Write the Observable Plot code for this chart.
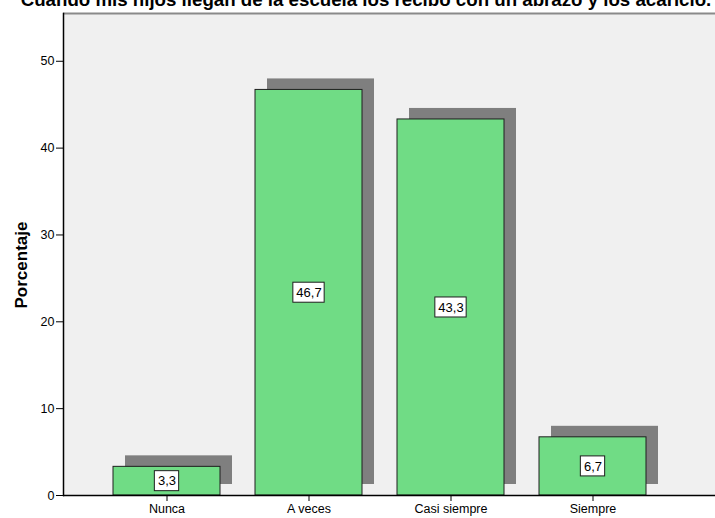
<!DOCTYPE html>
<html>
<head>
<meta charset="utf-8">
<script src="https://cdn.jsdelivr.net/npm/d3@7"></script>
<script src="https://cdn.jsdelivr.net/npm/@observablehq/plot@0.6"></script>
<style>
  html, body { margin: 0; padding: 0; background: #fff; overflow: hidden; }
  #wrap { position: relative; width: 715px; height: 518px; font-family: "Liberation Sans", Arial, sans-serif; }
  #title { position: absolute; left: 0; width: 732px; top: -9.5px; text-align: center; font-weight: bold; font-size: 18.7px; line-height: 18px; white-space: nowrap; color: #000; }
  #chart { position: absolute; left: 0; top: 0; }
</style>
</head>
<body>
<div id="wrap">
  <div id="chart"></div>
  <div id="title">Cuando mis hijos llegan de la escuela los recibo con un abrazo y los acaricio.</div>
</div>
<script>
const categories = ["Nunca", "A veces", "Casi siempre", "Siempre"];
const values = [3.3, 46.7, 43.3, 6.7];
const valueLabels = ["3,3", "46,7", "43,3", "6,7"];
const yTicks = [0, 10, 20, 30, 40, 50];
const yMax = 55.5;
const yTitle = "Porcentaje";

const data = categories.map((c, i) => ({cat: c, v: values[i], label: valueLabels[i]}));

const bandwidth = 106.7;
const boxH = 10;

const chart = Plot.plot({
  width: 715,
  height: 518,
  marginLeft: 63,
  marginRight: 0,
  marginTop: 13,
  marginBottom: 23,
  style: {fontFamily: "Liberation Sans, Arial, sans-serif", background: "transparent", color: "#000"},
  x: {type: "band", domain: categories, range: [76.5, 681], padding: 0.25},
  y: {domain: [0, yMax], range: [495, 13]},
  marks: [
    Plot.frame({fill: "#f0f0f0", stroke: null}),
    Plot.ruleY([yMax], {stroke: "#8a8a8a", strokeWidth: 2}),
    Plot.barY(data, {x: "cat", y: "v", fill: "#7f7f7f", dx: 12, dy: -11}),
    Plot.barY(data, {x: "cat", y: "v", fill: "#70dc85", stroke: "#1e1e1e", strokeWidth: 1}),
    Plot.barY(data.filter(d => d.label.length > 3), {x: "cat", y1: d => d.v / 2, y2: d => d.v / 2,
      fill: "white", stroke: "#1e1e1e", strokeWidth: 1,
      insetLeft: (bandwidth - 31) / 2, insetRight: (bandwidth - 31) / 2, insetTop: -boxH, insetBottom: -boxH}),
    Plot.barY(data.filter(d => d.label.length <= 3), {x: "cat", y1: d => d.v / 2, y2: d => d.v / 2,
      fill: "white", stroke: "#1e1e1e", strokeWidth: 1,
      insetLeft: (bandwidth - 24) / 2, insetRight: (bandwidth - 24) / 2, insetTop: -boxH, insetBottom: -boxH}),
    Plot.text(data, {x: "cat", y: d => d.v / 2, text: "label", fontSize: 13, fill: "#000"}),
    Plot.axisY({ticks: yTicks, tickSize: 7, tickPadding: 2, fontSize: 12.5, label: null, tickFormat: d => String(d)}),
    Plot.frame({anchor: "left", stroke: "#000", strokeWidth: 1.5}),
    Plot.ruleY([0], {stroke: "#000", strokeWidth: 1.5}),
    Plot.axisX({tickSize: 6, tickPadding: 3, fontSize: 12.5, label: null}),
    Plot.text([yTitle], {frameAnchor: "left", rotate: -90, dx: -42, dy: 54, fontWeight: "bold", fontSize: 17, fill: "#000"})
  ]
});
document.getElementById("chart").appendChild(chart);
</script>
</body>
</html>
